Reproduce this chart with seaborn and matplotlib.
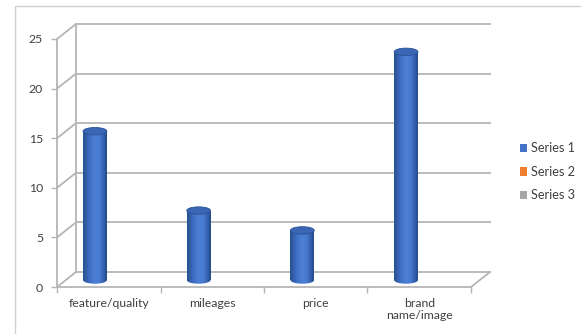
import numpy as np
import pandas as pd
import matplotlib
matplotlib.use("Agg")
import matplotlib.pyplot as plt
import matplotlib.transforms as mtransforms
from matplotlib.patches import Ellipse, Rectangle, Patch
import seaborn as sns

# ---- data ----
categories = ["feature/quality", "mileages", "price", "brand\nname/image"]
series1 = [15, 7, 5, 23]
series_names = ["Series 1", "Series 2", "Series 3"]
series_colors = ["#4472C4", "#ED7D31", "#A5A5A5"]
y_ticks = [0, 5, 10, 15, 20, 25]

df = pd.DataFrame({"category": categories, "value": series1})

sns.set_theme(style="white")
plt.rcParams["font.family"] = ["Lato", "DejaVu Sans"]

W, H = 581, 334
DPI = 100
fig = plt.figure(figsize=(W / DPI, H / DPI), dpi=DPI)

# plot area in pixels: front-left corner at (57, 287), back-top at y=24, back-right x=491
px_left, px_right, px_bottom, px_top = 57, 491, 287, 24
ax = fig.add_axes([px_left / W, (H - px_bottom) / H,
                   (px_right - px_left) / W, (px_bottom - px_top) / H])

cat_px = 103.7          # pixels per category
val_px = 9.92           # pixels per value unit
x_front_left = -0.366
x_front_right = x_front_left + (471 - px_left) / cat_px
x_lim_right = x_front_left + (px_right - px_left) / cat_px
y_top = (px_bottom - px_top) / val_px
dx = 19 / cat_px        # depth offset of back wall (x)
dy = 15 / val_px        # depth offset of back wall (y)

bar_w = 0.23
sns.barplot(data=df, x="category", y="value", width=bar_w, color="#4472C4",
            linewidth=0, ax=ax, zorder=3)

ax.set_xlim(x_front_left, x_lim_right)
ax.set_ylim(0, y_top)

grid_c = "#B5B5B5"
lw = 1.3
# back wall gridlines and left-wall diagonals
for v in y_ticks:
    ax.plot([x_front_left + dx, x_lim_right], [v + dy, v + dy], color=grid_c, lw=lw,
            clip_on=False, zorder=1, solid_capstyle="butt")
    ax.plot([x_front_left, x_front_left + dx], [v, v + dy], color=grid_c, lw=lw,
            clip_on=False, zorder=1)
# back-left vertical edge and front vertical axis
ax.plot([x_front_left + dx] * 2, [dy, y_ticks[-1] + dy], color=grid_c, lw=lw, clip_on=False, zorder=1)
ax.plot([x_front_left] * 2, [0, y_ticks[-1]], color=grid_c, lw=lw, clip_on=False, zorder=1)
# floor front edge and right diagonal
ax.plot([x_front_left, x_front_right], [0, 0], color=grid_c, lw=lw, clip_on=False, zorder=1)
ax.plot([x_front_right, x_front_right + dx], [0, dy], color=grid_c, lw=lw, clip_on=False, zorder=1)

# cylinders: body gradient, bottom and top caps, lifted to mid depth
lift = mtransforms.ScaledTranslation(0, 7 / DPI, fig.dpi_scale_trans)
trans = ax.transData + lift
cap_h = 0.75
grad = np.array([0.0, 0.25, 0.5, 0.7, 0.85, 1.0])
grad_cols = ["#27508F", "#3C6DC0", "#4C80D6", "#4779CF", "#3864B3", "#234A87"]
cmap = matplotlib.colors.LinearSegmentedColormap.from_list("cyl", list(zip(grad, grad_cols)))
gimg = np.linspace(0, 1, 64).reshape(1, -1)

for patch in ax.patches:
    x0 = patch.get_x()
    w = patch.get_width()
    h = patch.get_height()
    cx = x0 + w / 2
    patch.set_transform(trans)
    # bottom cap
    bottom = Ellipse((cx, 0), w, cap_h, transform=trans, facecolor="none",
                     edgecolor="none", zorder=3)
    ax.add_patch(bottom)
    im = ax.imshow(gimg, cmap=cmap, aspect="auto", extent=[x0, x0 + w, -cap_h, h],
                   transform=trans, zorder=3.1, interpolation="bilinear")
    im.set_clip_path(bottom)
    im2 = ax.imshow(gimg, cmap=cmap, aspect="auto", extent=[x0, x0 + w, -cap_h, h],
                    transform=trans, zorder=3.2, interpolation="bilinear")
    im2.set_clip_path(patch)
    patch.set_facecolor("none")
    # top cap
    top = Ellipse((cx, h), w, cap_h, transform=trans, facecolor="#3A66B4",
                  edgecolor="#2A5296", lw=0.6, zorder=3.5)
    ax.add_patch(top)

ax.set_xlim(x_front_left, x_lim_right)
ax.set_ylim(0, y_top)

for s in ax.spines.values():
    s.set_visible(False)

text_c = "#404040"
fs = 8.8
# x axis: tick marks at category boundaries, labels centered on the front row
bounds = [x_front_left + i * (x_front_right - x_front_left) / 4 for i in range(5)]
ax.set_xticks(bounds)
ax.set_xticklabels([""] * 5)
label_pos = [b + (x_front_right - x_front_left) / 8 for b in bounds[:4]]
ax.set_xticks(label_pos, minor=True)
ax.set_xticklabels(categories, minor=True, fontsize=fs, color=text_c, linespacing=1.1)
ax.tick_params(axis="x", which="major", direction="out", length=4, width=1, color=grid_c, bottom=True)
ax.tick_params(axis="x", which="minor", length=0, pad=8)
ax.set_xlabel("")

ax.set_yticks(y_ticks)
ax.set_yticklabels([str(v) for v in y_ticks], fontsize=fs, color=text_c)
ax.tick_params(axis="y", direction="out", length=4, width=1, color=grid_c, left=True, pad=6)
ax.set_ylabel("")

# legend
handles = [Patch(facecolor=c, edgecolor="none", label=n) for n, c in zip(series_names, series_colors)]
fig.legend(handles=handles, loc="center left", bbox_to_anchor=(508 / W, 1 - 172 / H),
           frameon=False, fontsize=9.2, labelcolor=text_c, handlelength=0.6,
           handleheight=0.6, handletextpad=0.3, labelspacing=0.9)

# outer chart border
fig.patches.append(Rectangle((15 / W, -0.05), 1.2, 1 - 6 / H + 0.05, transform=fig.transFigure,
                             facecolor="none", edgecolor="#D0D0D0", lw=1.0))

fig.savefig("out.png", dpi=DPI)
